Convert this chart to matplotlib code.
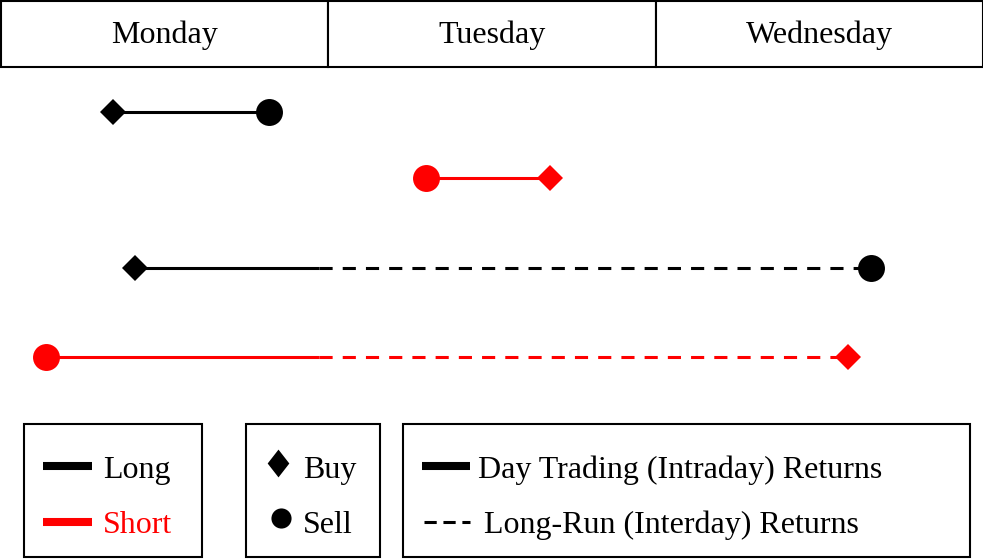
import math
import matplotlib.pyplot as plt
from matplotlib.patches import Rectangle

plt.rcParams['font.family'] = ['Liberation Serif', 'DejaVu Serif']

# time axis in days (Monday = 0..1, Tuesday = 1..2, Wednesday = 2..3)
days = ['Monday', 'Tuesday', 'Wednesday']
market_close = 0.97  # fraction of a day at which the session ends

# one row per trade
positions = ['Long', 'Short', 'Long', 'Short']
entry_time = [0.342, 1.297, 0.409, 0.137]
exit_time = [0.818, 1.678, 2.658, 2.588]

colors = {'Long': 'black', 'Short': 'red'}
row_y = [112, 178, 268, 357]  # layout (pixels from top)

fig = plt.figure(figsize=(9.83, 5.6), dpi=100)
ax = fig.add_axes([0, 0, 1, 1])
ax.set_xlim(-0.003, 3.0)
ax.set_ylim(560, 0)
ax.axis('off')

# header with the days
for i, day in enumerate(days):
    ax.add_patch(Rectangle((i, 1), 1, 66, facecolor='white', edgecolor='black', lw=1.5))
    ax.text(i + 0.5, 43, day, ha='center', va='baseline', fontsize=23)

for pos, t0, t1, y in zip(positions, entry_time, exit_time, row_y):
    c = colors[pos]
    close = math.floor(t0) + market_close
    if t1 <= close:
        ax.plot([t0, t1], [y, y], color=c, lw=2.2, solid_capstyle='butt')
    else:
        ax.plot([t0, close], [y, y], color=c, lw=2.2, solid_capstyle='butt')
        ax.plot([close, t1], [y, y], color=c, lw=2.2, dashes=(4.3, 3.3))
    # long: buy then sell; short: sell then buy
    first, last = ('D', 'o') if pos == 'Long' else ('o', 'D')
    for t, m in [(t0, first), (t1, last)]:
        ms = 13.5 if m == 'D' else 19.4
        ax.plot(t, y, marker=m, color=c, ms=ms, markeredgewidth=0, linestyle='none')

# legend boxes (pixel layout)
lg = fig.add_axes([0, 0, 1, 1])
lg.set_xlim(0, 983)
lg.set_ylim(560, 0)
lg.axis('off')
lg.patch.set_alpha(0)

for x0, x1 in [(24, 202), (246, 380), (403, 970)]:
    lg.add_patch(Rectangle((x0, 424), x1 - x0, 133, facecolor='none', edgecolor='black', lw=1.5))

lg.plot([43, 92], [466, 466], color='black', lw=5.8, solid_capstyle='butt')
lg.plot([43, 92], [522, 522], color='red', lw=5.8, solid_capstyle='butt')
lg.text(103, 478, 'Long', fontsize=23, va='baseline')
lg.text(103, 533, 'Short', color='red', fontsize=23, va='baseline')

buy_marker = [(0, 1), (0.78, 0), (0, -1), (-0.78, 0), (0, 1)]
lg.plot(278, 463, marker=buy_marker, color='black', ms=20, markeredgewidth=0)
lg.plot(281, 518, marker='o', color='black', ms=14.5, markeredgewidth=0)
lg.text(303, 478, 'Buy', fontsize=23, va='baseline')
lg.text(303, 533, 'Sell', fontsize=23, va='baseline')

lg.plot([422, 470], [466, 466], color='black', lw=5.8, solid_capstyle='butt')
lg.plot([424, 470], [522, 522], color='black', lw=2.2, dashes=(4, 2.2))
lg.text(478, 478, 'Day Trading (Intraday) Returns', fontsize=23, va='baseline')
lg.text(484, 533, 'Long-Run (Interday) Returns', fontsize=23, va='baseline')

fig.savefig('out.png', dpi=100)
